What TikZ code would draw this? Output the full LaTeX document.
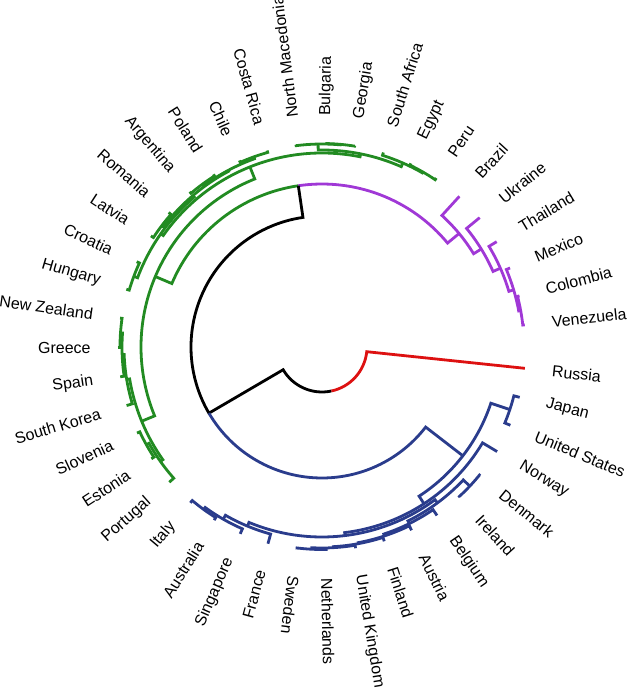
\documentclass[tikz,border=0pt]{standalone}
\usepackage{fontspec}
\setmainfont{Liberation Sans}
\definecolor{cRed}{RGB}{221,17,17}
\definecolor{cGreen}{RGB}{34,139,34}
\definecolor{cPurple}{RGB}{160,56,214}
\definecolor{cBlue}{RGB}{42,60,140}
% clade: radius, angle/radius of first child, angle/radius of second child
\newcommand{\clade}[5]{\draw (#2:#3) -- (#2:#1) arc[start angle=#2, end angle=#4, radius=#1] -- (#4:#5);}

\begin{document}
\begin{tikzpicture}[x=1pt, y=1pt, line width=2.8pt]
	\tikzstyle{lab}=[inner sep=0pt, font=\fontsize{16}{19}\selectfont];
	\useasboundingbox (-322,-342) rectangle (306,347);

	% labels
	\foreach \name [count=\i from 0] in {Russia, Japan, United States, Norway, Denmark, Ireland, Belgium, Austria, Finland, United Kingdom, Netherlands, Sweden, France, Singapore, Australia, Italy, Portugal, Estonia, Slovenia, South Korea, Spain, Greece, New Zealand, Hungary, Croatia, Latvia, Romania, Argentina, Poland, Chile, Costa Rica, North Macedonia, Bulgaria, Georgia, South Africa, Egypt, Peru, Brazil, Ukraine, Thailand, Mexico, Colombia, Venezuela} {
		\pgfmathsetmacro\a{-6-8.28*\i}
		\pgfmathsetmacro\flip{cos(\a)<-0.2 ? 1 : 0}
		\ifdim\flip pt>0.5pt
			\node[lab, anchor=east, rotate=\a+180] (n\i) at (\a:230) {\name};
		\else
			\node[lab, anchor=west, rotate=\a] (n\i) at (\a:230) {\name};
		\fi
	}

	% blue
	\begin{scope}[draw=cBlue]
		\clade{198}{-22.56}{204}{-14.28}{204}
		\clade{203}{-47.40}{204}{-39.12}{204}
		\clade{202.5}{-97.08}{204}{-88.80}{204}
		\clade{201}{-92.94}{202.5}{-80.52}{204}
		\clade{200}{-86.73}{201}{-72.24}{204}
		\clade{199}{-79.49}{200}{-63.96}{204}
		\clade{197}{-71.72}{199}{-55.68}{204}
		\clade{194}{-63.70}{197}{-43.26}{203}
		\clade{201}{-130.20}{204}{-121.92}{204}
		\clade{198.5}{-126.06}{201}{-113.64}{204}
		\clade{194}{-119.85}{198.5}{-105.36}{204}
		\clade{190}{-112.60}{194}{-53.48}{194}
		\clade{187}{-83.04}{190}{-30.84}{204}
		\clade{178}{-56.94}{187}{-18.42}{198}
	\end{scope}

	% purple
	\begin{scope}[draw=cPurple]
		\clade{202}{-353.76}{204}{-345.48}{204}
		\clade{200}{-349.62}{202}{-337.20}{204}
		\clade{195}{-343.41}{200}{-328.92}{204}
		\clade{187}{-336.17}{195}{-320.64}{204}
		\clade{178}{-328.40}{187}{-312.36}{204}
	\end{scope}

	% green
	\begin{scope}[draw=cGreen]
		\clade{201}{-155.04}{204}{-146.76}{204}
		\clade{198}{-150.90}{201}{-138.48}{204}
		\clade{202}{-188.16}{204}{-179.88}{204}
		\clade{200}{-184.02}{202}{-171.60}{204}
		\clade{198}{-177.81}{200}{-163.32}{204}
		\clade{195}{-170.57}{198}{-144.69}{198}
		\clade{201}{-204.72}{204}{-196.44}{204}
		\clade{201}{-221.28}{204}{-213.00}{204}
		\clade{202}{-237.84}{204}{-229.56}{204}
		\clade{202}{-254.40}{204}{-246.12}{204}
		\clade{200}{-250.26}{202}{-233.70}{202}
		\clade{199}{-241.98}{200}{-217.14}{201}
		\clade{197}{-229.56}{199}{-200.58}{201}
		\clade{203.5}{-279.24}{204}{-270.96}{204}
		\clade{203}{-275.10}{203.5}{-262.68}{204}
		\clade{202}{-304.08}{204}{-295.80}{204}
		\clade{201}{-299.94}{202}{-287.52}{204}
		\clade{197}{-293.73}{201}{-268.89}{203}
		\clade{194}{-281.31}{197}{-215.07}{197}
		\clade{181}{-248.19}{194}{-157.63}{195}
	\end{scope}

	% trunk
	\draw[cGreen] (-202.91:181) -- (-202.91:163) arc[start angle=-202.91, end angle=-261.645, radius=163];
	\draw[cPurple] (-261.645:163) arc[start angle=-261.645, end angle=-320.38, radius=163] -- (-320.38:178);
	\draw[black] (-261.645:163) -- (-261.645:131) arc[start angle=-261.645, end angle=-149.66, radius=131] -- (-149.66:45) arc[start angle=-149.66, end angle=-77.83, radius=45];
	\draw[cBlue] (-149.66:131) arc[start angle=-149.66, end angle=-37.68, radius=131] -- (-37.68:178);
	\draw[cRed] (-77.83:45) arc[start angle=-77.83, end angle=-6, radius=45] -- (-6:204);
\end{tikzpicture}
\end{document}
